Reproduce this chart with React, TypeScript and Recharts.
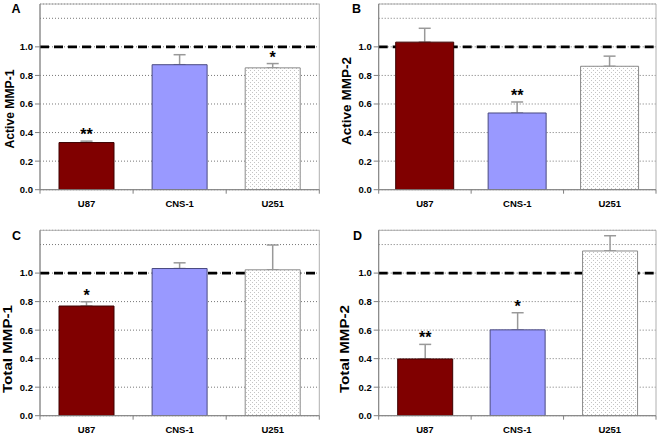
import React from "react";
import {
  BarChart,
  Bar,
  Cell,
  XAxis,
  YAxis,
  CartesianGrid,
  ReferenceLine,
  ReferenceArea,
  ErrorBar,
  LabelList,
} from "recharts";

const CELL_LINES = ["U87", "CNS-1", "U251"];

const ACTIVE_MMP1 = [0.33, 0.875, 0.853];
const ACTIVE_MMP1_ERR = [0.01, 0.07, 0.03];
const ACTIVE_MMP1_SIG = ["**", "", "*"];

const ACTIVE_MMP2 = [1.033, 0.537, 0.864];
const ACTIVE_MMP2_ERR = [0.097, 0.077, 0.071];
const ACTIVE_MMP2_SIG = ["", "**", ""];

const TOTAL_MMP1 = [0.769, 1.032, 1.023];
const TOTAL_MMP1_ERR = [0.03, 0.04, 0.174];
const TOTAL_MMP1_SIG = ["*", "", ""];

const TOTAL_MMP2 = [0.398, 0.602, 1.155];
const TOTAL_MMP2_ERR = [0.102, 0.12, 0.107];
const TOTAL_MMP2_SIG = ["**", "*", ""];

const Y_TICKS = [0, 0.2, 0.4, 0.6, 0.8, 1.0];
const Y_MAX = 1.3;
const EXTRA_GRID = [1.2];
const CONTROL_LEVEL = 1.0;

const FONT = '"Liberation Sans", Arial, sans-serif';
const AXIS = "#808080";
const FILLS = ["#800000", "#9999ff", "url(#dots)"];
const STROKES = ["#3c0000", "#4a4a80", "#8a8a8a"];

type Geo = {
  left: number;
  top: number;
  width: number;
  height: number;
  plotLeft: number;
  plotRight: number;
  plotTop: number;
  plotBottom: number;
  barSize: number;
  letterX: number;
  letterY: number;
  labelX: number;
  labelY: number;
  labelLen: number;
};

function CategoryTick(props: any) {
  const { x, y, payload, index, band } = props;
  return (
    <g>
      <line x1={x - band / 2} x2={x - band / 2} y1={y} y2={y + 4} stroke={AXIS} />
      {index === CELL_LINES.length - 1 && (
        <line x1={x + band / 2} x2={x + band / 2} y1={y} y2={y + 4} stroke={AXIS} />
      )}
      <text
        x={x}
        y={y + 17}
        textAnchor="middle"
        fontFamily={FONT}
        fontWeight="bold"
        fontSize={9.5}
        fill="#000"
      >
        {payload.value}
      </text>
    </g>
  );
}

function Panel({
  letter,
  yLabel,
  values,
  errs,
  sig,
  geo,
}: {
  letter: string;
  yLabel: string;
  values: number[];
  errs: number[];
  sig: string[];
  geo: Geo;
}) {
  const data = CELL_LINES.map((name, i) => ({
    name,
    value: values[i],
    err: [0, errs[i]],
    sig: sig[i],
  }));
  const band = (geo.plotRight - geo.plotLeft) / CELL_LINES.length;

  // star sits just above the top of the error bar
  const star = (p: any) => {
    const { x, y, width, height, index, value } = p;
    if (!value) return null;
    const perUnit = height / values[index];
    const errTop = y - errs[index] * perUnit;
    return (
      <text
        x={x + width / 2}
        y={errTop - 1}
        textAnchor="middle"
        fontFamily={FONT}
        fontWeight="bold"
        fontSize={16}
        fill="#000"
      >
        {value}
      </text>
    );
  };

  return (
    <div style={{ position: "absolute", left: geo.left, top: geo.top }}>
      <BarChart
        width={geo.width}
        height={geo.height}
        data={data}
        margin={{
          top: geo.plotTop,
          right: geo.width - geo.plotRight,
          left: 0,
          bottom: 0,
        }}
      >
        <ReferenceArea y1={0} y2={Y_MAX} fill="none" stroke="#b0b0b0" zIndex={-60} />
        <CartesianGrid vertical={false} stroke="#777" strokeDasharray="1 2" />
        {EXTRA_GRID.map((g) => (
          <ReferenceLine key={g} y={g} stroke="#777" strokeDasharray="1 2" zIndex={-50} />
        ))}
        <ReferenceLine
          y={CONTROL_LEVEL}
          stroke="#000"
          strokeWidth={2.6}
          strokeDasharray="9 5"
          zIndex={-40}
        />
        <XAxis
          dataKey="name"
          height={geo.height - geo.plotBottom}
          axisLine={{ stroke: AXIS }}
          tickLine={false}
          tickSize={0}
          tickMargin={0}
          interval={0}
          tick={(p: any) => <CategoryTick {...p} band={band} />}
        />
        <YAxis
          width={geo.plotLeft}
          domain={[0, Y_MAX]}
          ticks={Y_TICKS}
          interval={0}
          allowDataOverflow
          tickSize={5}
          tickMargin={2}
          axisLine={{ stroke: AXIS }}
          tickLine={{ stroke: AXIS }}
          tickFormatter={(v: number) => v.toFixed(1)}
          tick={{ fill: "#000", fontFamily: FONT, fontWeight: "bold", fontSize: 9.5 }}
          label={{
            content: () => (
              <text
                transform={`translate(${geo.labelX},${geo.labelY}) rotate(-90)`}
                textAnchor="middle"
                fontFamily={FONT}
                fontWeight="bold"
                fontSize={12}
                textLength={geo.labelLen}
                lengthAdjust="spacingAndGlyphs"
                fill="#000"
              >
                {yLabel}
              </text>
            ),
          }}
        />
        <Bar dataKey="value" barSize={geo.barSize} isAnimationActive={false}>
          {data.map((d, i) => (
            <Cell key={d.name} fill={FILLS[i]} stroke={STROKES[i]} strokeWidth={1} />
          ))}
          <ErrorBar dataKey="err" width={6} stroke="#999" strokeWidth={1.5} zIndex={250} />
          <LabelList dataKey="sig" content={star} />
        </Bar>
      </BarChart>
      <svg
        width={40}
        height={30}
        style={{ position: "absolute", left: 0, top: 0, pointerEvents: "none" }}
      >
        <text
          x={geo.letterX}
          y={geo.letterY}
          fontFamily={FONT}
          fontWeight="bold"
          fontSize={12.5}
          fill="#000"
        >
          {letter}
        </text>
      </svg>
    </div>
  );
}

const GEO_A: Geo = {
  left: 0, top: 0, width: 331, height: 218,
  plotLeft: 40, plotRight: 319.3, plotTop: 4, plotBottom: 189.7, barSize: 55,
  letterX: 11.5, letterY: 13.3, labelX: 14, labelY: 109, labelLen: 79,
};
const GEO_B: Geo = {
  left: 331, top: 0, width: 331, height: 218,
  plotLeft: 47.7, plotRight: 325, plotTop: 4, plotBottom: 189.7, barSize: 58,
  letterX: 21, letterY: 13.3, labelX: 20, labelY: 101, labelLen: 88,
};
const GEO_C: Geo = {
  left: 0, top: 218, width: 331, height: 219,
  plotLeft: 40, plotRight: 319.3, plotTop: 12.3, plotBottom: 197.7, barSize: 55,
  letterX: 12, letterY: 21.7, labelX: 12, labelY: 131, labelLen: 88,
};
const GEO_D: Geo = {
  left: 331, top: 218, width: 331, height: 219,
  plotLeft: 47.7, plotRight: 325, plotTop: 12.3, plotBottom: 197.7, barSize: 55,
  letterX: 22, letterY: 22, labelX: 18.3, labelY: 131, labelLen: 88,
};

export default function App() {
  return (
    <div
      style={{
        position: "absolute",
        left: 0,
        top: 0,
        width: 662,
        height: 437,
        background: "#fff",
        overflow: "hidden",
      }}
    >
      <svg width={0} height={0} style={{ position: "absolute" }}>
        <defs>
          <pattern id="dots" width={4} height={4} patternUnits="userSpaceOnUse">
            <rect width={4} height={4} fill="#fff" />
            <rect x={0} y={0} width={1} height={1} fill="#c4c4c4" />
            <rect x={2} y={2} width={1} height={1} fill="#c4c4c4" />
          </pattern>
        </defs>
      </svg>
      <Panel letter="A" yLabel="Active MMP-1" values={ACTIVE_MMP1} errs={ACTIVE_MMP1_ERR} sig={ACTIVE_MMP1_SIG} geo={GEO_A} />
      <Panel letter="B" yLabel="Active MMP-2" values={ACTIVE_MMP2} errs={ACTIVE_MMP2_ERR} sig={ACTIVE_MMP2_SIG} geo={GEO_B} />
      <Panel letter="C" yLabel="Total MMP-1" values={TOTAL_MMP1} errs={TOTAL_MMP1_ERR} sig={TOTAL_MMP1_SIG} geo={GEO_C} />
      <Panel letter="D" yLabel="Total MMP-2" values={TOTAL_MMP2} errs={TOTAL_MMP2_ERR} sig={TOTAL_MMP2_SIG} geo={GEO_D} />
    </div>
  );
}
